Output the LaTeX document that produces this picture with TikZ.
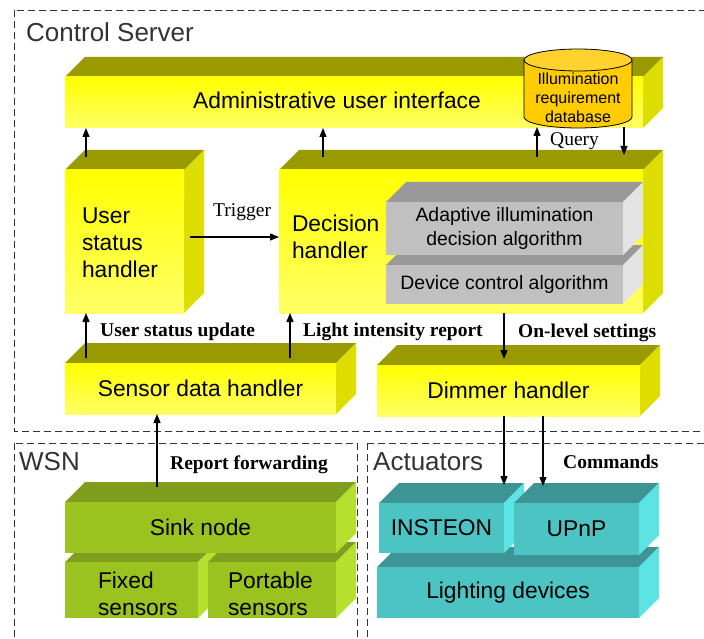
\documentclass[tikz,border=0pt]{standalone}
\usepackage{fontspec}
\setmainfont{Liberation Serif}
\setsansfont{Liberation Sans}
\usetikzlibrary{arrows.meta}

% face colours of the solid blocks: Top, Side, front
\definecolor{yTop}{HTML}{999900}
\definecolor{ySide}{HTML}{DDDD00}
\definecolor{yFa}{HTML}{FFFF00}
\definecolor{yFb}{HTML}{FFFF66}
\definecolor{gTop}{HTML}{7F9E1E}
\definecolor{gSide}{HTML}{B5E02D}
\definecolor{gF}{HTML}{9BC320}
\definecolor{cTop}{HTML}{3C9494}
\definecolor{cSide}{HTML}{5DE3E3}
\definecolor{cF}{HTML}{4DC4C4}
\definecolor{kTop}{HTML}{999999}
\definecolor{kSide}{HTML}{E4E4E4}
\definecolor{kF}{HTML}{C0C0C0}
\definecolor{dbBody}{HTML}{FFCC00}
\definecolor{dbTop}{HTML}{FFD22E}

% solid block: name, x1, y1, x2, y2 (front face), palette, text
\newcommand\blockbox[7]{%
  \fill[#6Top] (#2,#3) -- ({#2+20},{#3-20}) -- ({#4+20},{#3-20}) -- (#4,#3) -- cycle;
  \fill[#6Side] (#4,#3) -- ({#4+20},{#3-20}) -- ({#4+20},{#5-20}) -- (#4,#5) -- cycle;
  \node[boxtxt, #6front, anchor=north west,
        minimum width={(#4-#2)*1pt}, minimum height={(#5-#3)*1pt}] (#1) at (#2,#3) {#7};
}

\tikzset{
  arr/.style={line width=1.3pt, -{Triangle[length=9pt,width=7pt]}},
  region/.style={draw=black!80, line width=0.9pt, dash pattern=on 7pt off 4pt},
  regionlbl/.style={font=\sffamily\fontsize{26}{30}\selectfont, text=black!80, anchor=base west, inner sep=0},
  flowlbl/.style={font=\bfseries\fontsize{19.5}{23}\selectfont, anchor=base west, inner sep=0},
  plainlbl/.style={font=\fontsize{19.5}{23}\selectfont, anchor=base west, inner sep=0},
  boxtxt/.style={font=\sffamily\fontsize{22.8}{27}\selectfont, inner sep=0, outer sep=0, align=center},
  lefttxt/.style={boxtxt, anchor=west, align=left},
  yfront/.style={top color=yFa, bottom color=yFb},
  gfront/.style={fill=gF},
  cfront/.style={fill=cF},
  kfront/.style={fill=kF, font=\sffamily\fontsize{19.4}{24}\selectfont},
}

\begin{document}
\begin{tikzpicture}[x=1pt, y=-1pt]
\useasboundingbox (0,0) rectangle (704,639);
\clip (0,0) rectangle (704,639);

% dashed regions
\draw[region] (14,10) rectangle (720,431);
\draw[region] (14,443) rectangle (357,660);
\draw[region] (367,443) rectangle (720,660);
\node[regionlbl] (rcs) at (26,42) {Control Server};
\node[regionlbl] (rwsn) at (19,470) {WSN};
\node[regionlbl] (ract) at (373,470) {Actuators};

% control server
\blockbox{admin}{65}{77}{643}{128}{y}{}
\node[boxtxt] (admintxt) at (337,100) {Administrative user interface};

% illumination database cylinder
\fill[dbBody] (524,60) -- (524,117) arc[start angle=180, end angle=0, x radius=54, y radius=11] -- (632,60) -- cycle;
\draw[line width=0.8pt] (524,60) -- (524,117) arc[start angle=180, end angle=0, x radius=54, y radius=11] -- (632,60);
\draw[line width=0.8pt, fill=dbTop] (578,60) ellipse[x radius=54, y radius=11];
\node[font=\sffamily\fontsize{16}{19}\selectfont, align=center, inner sep=0] (db) at (578,98)
  {Illumination\\requirement\\database};
\coordinate (dbbase) at (578,127);

\blockbox{usr}{65}{170}{184}{313}{y}{}
\node[lefttxt] (usrtxt) at (82,243) {User\\status\\handler};

\blockbox{dec}{279}{170}{643}{313}{y}{}
\node[lefttxt] (dectxt) at (292,236.5) {Decision\\handler};
\blockbox{kdev}{386}{265}{623}{304}{k}{Device control algorithm}
\blockbox{kada}{386}{202}{623}{255}{k}{Adaptive illumination\\decision algorithm}

\blockbox{sens}{65}{363}{336}{414}{y}{Sensor data handler}
\blockbox{dim}{377}{365}{640}{416}{y}{Dimmer handler}

% wireless sensor network
\blockbox{fixed}{65}{562}{198}{618}{g}{}
\node[lefttxt] (fixedtxt) at (98,593.5) {Fixed\\sensors};
\blockbox{port}{208}{562}{336}{618}{g}{}
\node[lefttxt] (porttxt) at (228,593.5) {Portable\\sensors};
\blockbox{sink}{65}{502}{336}{553}{g}{Sink node}

% actuators
\blockbox{light}{377}{567}{639}{618}{c}{Lighting devices}
\blockbox{ins}{379}{503}{504}{553}{c}{INSTEON}
\blockbox{upnp}{514}{503}{639}{555}{c}{UPnP}

% connectors
\coordinate (uA) at ([shift={(21,-13)}]usr.north west);
\draw[arr] (uA) -- (uA |- admin.south);
\coordinate (dA) at ([shift={(44,-13)}]dec.north west);
\draw[arr] (dA) -- (dA |- admin.south);
\coordinate (qU) at ([shift={(258,-13)}]dec.north west);
\draw[arr] (qU) -- (qU |- dbbase);
\coordinate (qD) at ([shift={(345,-15)}]dec.north west);
\draw[arr] (qD |- dbbase) -- (qD);
\coordinate (tr) at ([shift={(6,-4.5)}]usr.east);
\draw[arr] (tr) -- (tr -| dec.west);
\coordinate (sU) at ([shift={(21,-5)}]sens.north west);
\draw[arr] (sU) -- (sU |- usr.south);
\coordinate (sD) at ([shift={(225,-5)}]sens.north west);
\draw[arr] (sD) -- (sD |- dec.south);
\coordinate (oL) at ([xshift=225pt]dec.south west);
\coordinate (oLend) at ([shift={(127,-6)}]dim.north west);
\draw[arr] (oL) -- (oLend);
\coordinate (cI) at ([xshift=127pt]dim.south west);
\coordinate (cIend) at ([shift={(125,-18)}]ins.north west);
\draw[arr] (cI) -- (cIend);
\coordinate (cU) at ([xshift=166pt]dim.south west);
\coordinate (cUend) at ([shift={(29,-17)}]upnp.north west);
\draw[arr] (cU) -- (cUend);
\coordinate (sF) at ([shift={(92,-15)}]sink.north west);
\draw[arr] (sF) -- (sF |- sens.south);

% connector labels
\node[plainlbl] (lq) at (550,146) {Query};
\node[plainlbl] (ltrig) at (213,217) {Trigger};
\node[flowlbl] (lusu) at (100,336) {User status update};
\node[flowlbl] (llir) at (303,336) {Light intensity report};
\node[flowlbl] (lols) at (518,337) {On-level settings};
\node[flowlbl] (lrf) at (170,469) {Report forwarding};
\node[flowlbl] (lcmd) at (563,468) {Commands};
\end{tikzpicture}
\end{document}
